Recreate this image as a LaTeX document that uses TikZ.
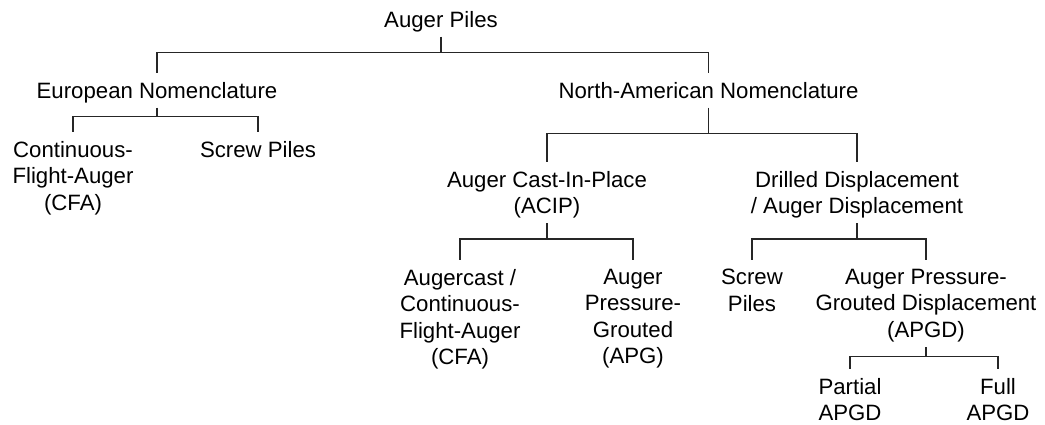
\documentclass[tikz,border=0pt]{standalone}
\usepackage{fontspec}
\setmainfont{Liberation Sans}
\newcommand\stq{\rule[-5.5pt]{0pt}{19.8pt}}
\begin{document}
\begin{tikzpicture}[x=1pt,y=-1pt,
  lbl/.style={anchor=north,align=center,inner sep=0pt,font=\fontsize{22.2}{26.5}\selectfont},
  edge/.style={line width=1.1pt,draw=black!85}]
\useasboundingbox (0,0) rectangle (1045,425);
% nodes
\node[lbl] (root) at (441,11) {\stq Auger Piles};
\node[lbl] (euro) at (157,82) {\stq European Nomenclature};
\node[lbl] (na) at (708.5,82) {\stq North-American Nomenclature};
\node[lbl] (cfa1) at (73,141) {\stq Continuous-\\\stq Flight-Auger\\\stq (CFA)};
\node[lbl] (screw1) at (258,141) {\stq Screw Piles};
\node[lbl] (acip) at (547,171) {\stq Auger Cast-In-Place\\\stq (ACIP)};
\node[lbl] (dd) at (857,171) {\stq Drilled Displacement\\\stq / Auger Displacement};
\node[lbl] (cfa2) at (460,269) {\stq Augercast /\\\stq Continuous-\\\stq Flight-Auger\\\stq (CFA)};
\node[lbl] (apg) at (633,269) {\stq Auger\\\stq Pressure-\\\stq Grouted\\\stq (APG)};
\node[lbl] (screw2) at (752,269) {\stq Screw\\\stq Piles};
\node[lbl] (apgd) at (926,269) {\stq Auger Pressure-\\\stq Grouted Displacement\\\stq (APGD)};
\node[lbl] (partial) at (850,378) {\stq Partial\\\stq APGD};
\node[lbl] (full) at (998,378) {\stq Full\\\stq APGD};
% connectors
\draw[edge] ([yshift=-4pt]root.south) -- ++(0,15.5) -| ([yshift=9pt]euro.north);
\draw[edge] ([yshift=-4pt]root.south) -- ++(0,15.5) -| ([yshift=9pt]na.north);
\draw[edge] ([yshift=-4pt]euro.south) -- ++(0,8.5) -| ([yshift=9pt]cfa1.north);
\draw[edge] ([yshift=-4pt]euro.south) -- ++(0,8.5) -| ([yshift=9pt]screw1.north);
\draw[edge] ([yshift=-4pt]na.south) -- ++(0,25.5) -| ([yshift=9pt]acip.north);
\draw[edge] ([yshift=-4pt]na.south) -- ++(0,25.5) -| ([yshift=9pt]dd.north);
\draw[edge] ([yshift=-4pt]acip.south) -- ++(0,15.5) -| ([yshift=9pt]cfa2.north);
\draw[edge] ([yshift=-4pt]acip.south) -- ++(0,15.5) -| ([yshift=9pt]apg.north);
\draw[edge] ([yshift=-4pt]dd.south) -- ++(0,15.5) -| ([yshift=9pt]screw2.north);
\draw[edge] ([yshift=-4pt]dd.south) -- ++(0,15.5) -| ([yshift=9pt]apgd.north);
\draw[edge] ([yshift=-4pt]apgd.south) -- ++(0,9.5) -| ([yshift=9pt]partial.north);
\draw[edge] ([yshift=-4pt]apgd.south) -- ++(0,9.5) -| ([yshift=9pt]full.north);
\end{tikzpicture}
\end{document}
